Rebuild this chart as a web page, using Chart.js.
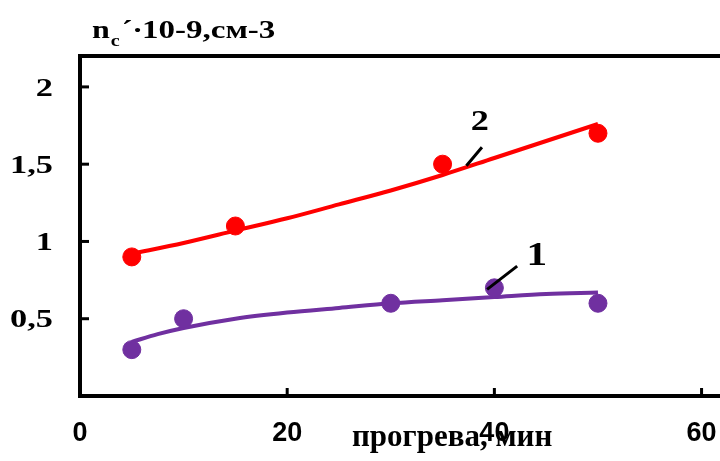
<!DOCTYPE html>
<html>
<head>
<meta charset="utf-8">
<script src="https://cdn.jsdelivr.net/npm/chart.js@4"></script>
<style>
  html, body { margin: 0; padding: 0; background: #fff; overflow: hidden; }
  #wrap { width: 760px; height: 461px; }
</style>
</head>
<body>
<div id="wrap"><canvas id="chart" width="760" height="461"></canvas></div>
<script>
// ======= Data =======
const xTicks = [0, 20, 40, 60];
const yTicks = [0.5, 1, 1.5, 2];

// series 1 (purple) measured points
const s1X = [5, 10, 30, 40, 50];
const s1Y = [0.3, 0.5, 0.6, 0.7, 0.6];
// series 2 (red) measured points
const s2X = [5, 15, 35, 50];
const s2Y = [0.9, 1.1, 1.5, 1.7];

// trend curves
const t1X = [5, 7.5, 10, 15, 20, 25, 30, 35, 40, 45, 50];
const t1Y = [0.35, 0.40, 0.44, 0.50, 0.54, 0.57, 0.60, 0.62, 0.64, 0.66, 0.67];
const t2X = [5, 10, 15, 20, 25, 30, 35, 40, 45, 50];
const t2Y = [0.92, 0.99, 1.07, 1.15, 1.24, 1.33, 1.43, 1.54, 1.65, 1.76];

const seriesLabels = ['1', '2'];

// ======= Styles =======
const PURPLE = '#7030A0';
const RED = '#FF0000';
const SERIF = '"Liberation Serif", "Times New Roman", serif';
const SANS = '"Liberation Sans", Arial, sans-serif';

const pts = (xs, ys) => xs.map((x, i) => ({ x, y: ys[i] }));

// stretched text helper (reference text is horizontally wide)
function wideText(ctx, text, x, y, font, sx, align = 'left', base = 'alphabetic') {
  ctx.save();
  ctx.font = font;
  ctx.textAlign = align;
  ctx.textBaseline = base;
  ctx.fillStyle = '#000';
  ctx.translate(x, y);
  ctx.scale(sx, 1);
  ctx.fillText(text, 0, 0);
  const w = ctx.measureText(text).width * sx;
  ctx.restore();
  return w;
}

const decor = {
  id: 'decor',
  afterDraw(chart) {
    const { ctx, chartArea: a, scales: { x, y } } = chart;
    ctx.save();
    ctx.strokeStyle = '#000';
    ctx.lineWidth = 4;
    ctx.lineCap = 'butt';
    // top frame line
    ctx.beginPath();
    ctx.moveTo(a.left - 2, a.top);
    ctx.lineTo(a.right, a.top);
    ctx.stroke();
    // inside tick marks
    ctx.lineWidth = 3;
    y.ticks.forEach(t => {
      const py = y.getPixelForValue(t.value);
      ctx.beginPath(); ctx.moveTo(a.left, py); ctx.lineTo(a.left + 9, py); ctx.stroke();
    });
    x.ticks.forEach(t => {
      if (t.value === 0) return;
      const px = x.getPixelForValue(t.value);
      ctx.beginPath(); ctx.moveTo(px, a.bottom); ctx.lineTo(px, a.bottom - 8); ctx.stroke();
    });

    // x axis title (drawn before tick labels so "40" sits on top)
    wideText(ctx, 'прогрева, мин', 352, 446, 'bold 31px ' + SERIF, 1.0);

    // tick labels
    y.ticks.forEach(t => {
      const py = y.getPixelForValue(t.value);
      wideText(ctx, String(t.value).replace('.', ','), 53, py + 2, 'bold 26px ' + SERIF, 1.32, 'right', 'middle');
    });
    x.ticks.forEach(t => {
      const px = x.getPixelForValue(t.value);
      wideText(ctx, String(t.value), px, 434, 'bold 27px ' + SANS, 1.0, 'center', 'middle');
    });

    // title  n_c'·10-9, см-3
    let cx = 92;
    cx += wideText(ctx, 'n', cx, 38, 'bold 25px ' + SERIF, 1.28);
    cx += wideText(ctx, 'c', cx + 1, 46, 'bold 16px ' + SERIF, 1.25) + 3;
    wideText(ctx, '´·', cx, 38, 'bold 25px ' + SERIF, 1.28);
    wideText(ctx, '10-9,см-3', 142, 38, 'bold 25px ' + SERIF, 1.32);

    // series labels with leader lines
    ctx.lineWidth = 3;
    ctx.beginPath();
    ctx.moveTo(x.getPixelForValue(37.3), y.getPixelForValue(1.49));
    ctx.lineTo(x.getPixelForValue(38.8), y.getPixelForValue(1.61));
    ctx.moveTo(x.getPixelForValue(39.3), y.getPixelForValue(0.69));
    ctx.lineTo(x.getPixelForValue(42.2), y.getPixelForValue(0.84));
    ctx.stroke();
    wideText(ctx, seriesLabels[1], x.getPixelForValue(38.6), y.getPixelForValue(1.77), 'bold 29px ' + SERIF, 1.25, 'center', 'middle');
    wideText(ctx, seriesLabels[0], x.getPixelForValue(44.1), y.getPixelForValue(0.90), 'bold 33px ' + SERIF, 1.25, 'center', 'middle');
    ctx.restore();
  }
};

new Chart(document.getElementById('chart'), {
  type: 'scatter',
  data: {
    datasets: [
      { type: 'line', data: pts(t1X, t1Y), borderColor: PURPLE, borderWidth: 4, pointRadius: 0,
        cubicInterpolationMode: 'monotone', fill: false, order: 2 },
      { type: 'line', data: pts(t2X, t2Y), borderColor: RED, borderWidth: 4, pointRadius: 0,
        cubicInterpolationMode: 'monotone', fill: false, order: 2 },
      { data: pts(s1X, s1Y), backgroundColor: PURPLE, borderColor: PURPLE, pointRadius: 9, order: 1 },
      { data: pts(s2X, s2Y), backgroundColor: RED, borderColor: RED, pointRadius: 9, order: 1 }
    ]
  },
  options: {
    responsive: false,
    animation: false,
    events: [],
    layout: { padding: { top: 56, right: 17, left: 0, bottom: 0 } },
    plugins: { legend: { display: false }, tooltip: { enabled: false } },
    scales: {
      x: {
        type: 'linear', min: 0, max: 64,
        afterBuildTicks: s => { s.ticks = xTicks.map(v => ({ value: v })); },
        afterFit: s => { s.height = 65; },
        ticks: { display: false },
        grid: { display: false },
        border: { display: true, color: '#000', width: 4 }
      },
      y: {
        min: 0, max: 2.2,
        afterBuildTicks: s => { s.ticks = yTicks.map(v => ({ value: v })); },
        afterFit: s => { s.width = 80; },
        ticks: { display: false },
        grid: { display: false },
        border: { display: true, color: '#000', width: 4 }
      }
    }
  },
  plugins: [decor]
});
</script>
</body>
</html>
